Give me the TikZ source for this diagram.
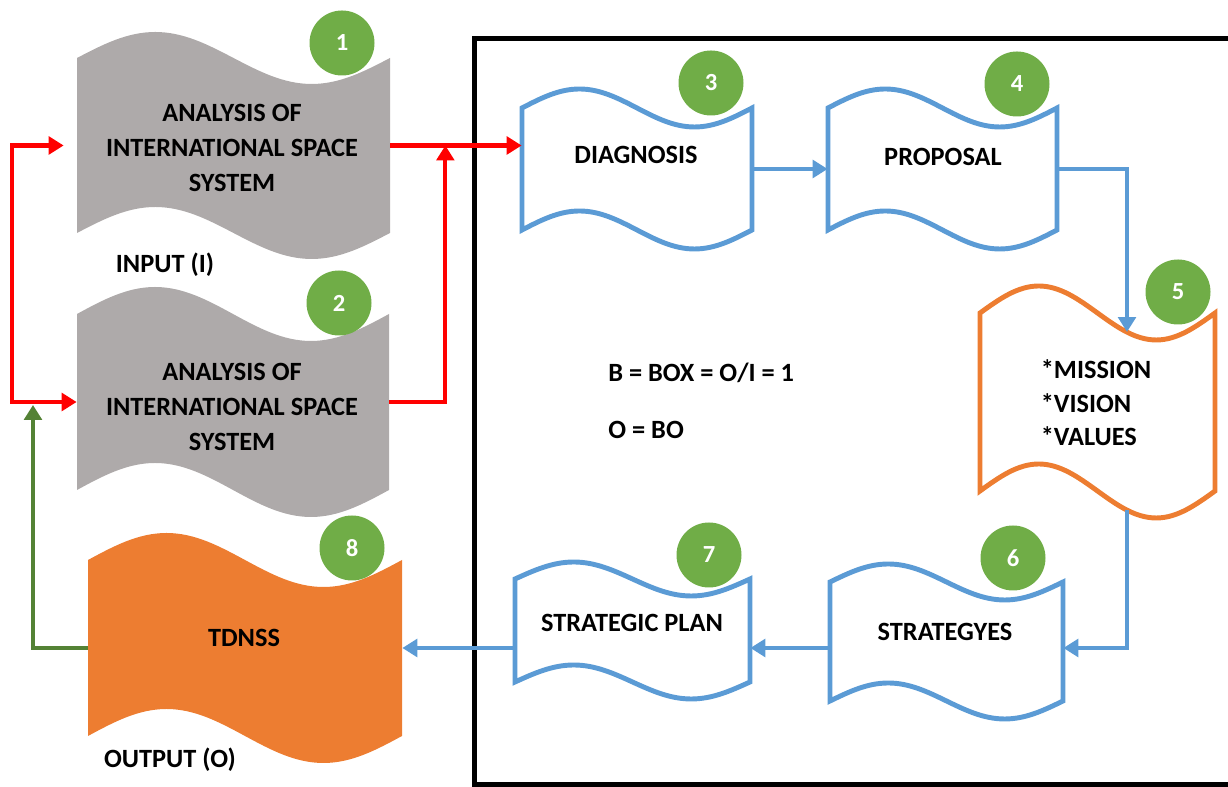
\documentclass[tikz,border=0pt]{standalone}
\usepackage{fontspec}
\setmainfont{Carlito}
\usetikzlibrary{arrows.meta, calc}

\definecolor{tapegray}{HTML}{AEAAAA}
\definecolor{tapeblue}{HTML}{5B9BD5}
\definecolor{tapeorange}{HTML}{ED7D31}
\definecolor{numgreen}{HTML}{70AD47}
\definecolor{loopgreen}{HTML}{548235}

% wavy tape: name, look, left, right, top, bottom, bend
\newcommand{\tapebox}[7]{%
  \pgfmathsetmacro\qone{#3+(#4-#3)/4}%
  \pgfmathsetmacro\qtwo{#3+(#4-#3)/2}%
  \pgfmathsetmacro\qthree{#3+3*(#4-#3)/4}%
  \path[#2] (#3,#5) sin (\qone,#5+#7) cos (\qtwo,#5) sin (\qthree,#5-#7) cos (#4,#5)
    -- (#4,#6) sin (\qthree,#6-#7) cos (\qtwo,#6) sin (\qone,#6+#7) cos (#3,#6) -- cycle;
  \node[inner sep=0pt, minimum width={(#4-#3)*1cm}, minimum height={(#5-#6)*1cm}] (#1) at (\qtwo,{(#5+#6)/2}) {};
}

\begin{document}
\begin{tikzpicture}[>={Triangle[length=8.5pt,width=10pt]},
  font=\bfseries\fontsize{15}{20}\selectfont,
  grayfill/.style={fill=tapegray},
  orangefill/.style={fill=tapeorange},
  blueedge/.style={draw=tapeblue, fill=white, line width=2.8pt},
  orangeedge/.style={draw=tapeorange, fill=white, line width=2.8pt},
  num/.style={circle, fill=numgreen, text=white, minimum size=1.3cm, inner sep=0pt,
    font=\bfseries\fontsize{14}{14}\selectfont},
  lbl/.style={align=center, inner sep=0pt},
  redline/.style={draw=red, line width=2.3pt},
  blueline/.style={draw=tapeblue, line width=2.5pt},
  greenline/.style={draw=loopgreen, line width=2.3pt}]
  \clip (0,0) rectangle (24.56,15.74);

  % the box
  \draw[line width=0.1cm] (24.8,14.96) -- (9.48,14.96) -- (9.48,0.04) -- (24.8,0.04);

  % tapes
  \tapebox{g1}{grayfill}{1.54}{7.80}{14.58}{11.08}{0.52}
  \tapebox{g2}{grayfill}{1.54}{7.78}{9.46}{5.94}{0.54}
  \tapebox{tdnss}{orangefill}{1.76}{8.04}{4.54}{1.02}{0.54}
  \tapebox{diag}{blueedge}{10.44}{15.04}{13.58}{11.14}{0.38}
  \tapebox{prop}{blueedge}{16.56}{21.14}{13.58}{11.14}{0.38}
  \tapebox{mvv}{orangeedge}{19.60}{24.30}{9.48}{5.92}{0.54}
  \tapebox{strat}{blueedge}{16.60}{21.26}{4.10}{1.72}{0.36}
  \tapebox{plan}{blueedge}{10.30}{15.00}{4.16}{2.10}{0.34}

  % input loop
  \coordinate (joinR) at ($(g1.east)+(1.1,0)$);
  \coordinate (loopL) at (0.24,10);
  \coordinate (fbk) at (0.66,7.64);
  \draw[redline,->] (g1.east) -- (g1.east -| diag.west);
  \draw[redline,->] (g2.east) -| (joinR);
  \draw[redline,<->] ([xshift=-0.26cm]g1.west) -| (loopL) |- (g2.west);
  \draw[greenline,->] (tdnss.west) -| (fbk);

  % process chain
  \coordinate (mvvIn) at (22.54,9.10);
  \coordinate (mvvOut) at (22.54,5.54);
  \draw[blueline,->] (diag.east) -- (prop.west);
  \draw[blueline,->] (prop.east) -| (mvvIn);
  \draw[blueline,->] (mvvOut) |- (strat.east |- tdnss.east);
  \draw[blueline,->] (strat.west |- tdnss.east) -- (plan.east |- tdnss.east);
  \draw[blueline,->] (plan.west |- tdnss.east) -- (tdnss.east);

  % step numbers
  \node[num] (n1) at (6.84,14.88) {1};
  \node[num] (n2) at (6.78,9.68) {2};
  \node[num] (n3) at (14.22,14.08) {3};
  \node[num] (n4) at (20.34,14.06) {4};
  \node[num] (n5) at (23.56,9.90) {5};
  \node[num] (n6) at (20.26,4.58) {6};
  \node[num] (n7) at (14.18,4.64) {7};
  \node[num] (n8) at (7.04,4.78) {8};

  % texts
  \node[lbl] (g1txt) at (4.64,12.78) {ANALYSIS OF\\INTERNATIONAL SPACE\\SYSTEM};
  \node[lbl] (g2txt) at (4.64,7.60) {ANALYSIS OF\\INTERNATIONAL SPACE\\SYSTEM};
  \node[lbl] (input) at (3.30,10.44) {INPUT (I)};
  \node[lbl] (output) at (3.40,0.54) {OUTPUT (O)};
  \node[lbl] (tdnsstxt) at (4.88,2.98) {TDNSS};
  \node[lbl] (diagtxt) at (12.72,12.64) {DIAGNOSIS};
  \node[lbl] (proptxt) at (18.86,12.60) {PROPOSAL};
  \node[lbl, align=left, font=\bfseries\fontsize{15}{19}\selectfont] (mvvtxt) at (21.92,7.68) {*MISSION\\*VISION\\*VALUES};
  \node[lbl] (strattxt) at (18.90,3.10) {STRATEGYES};
  \node[lbl] (plantxt) at (12.64,3.28) {STRATEGIC PLAN};
  \node[anchor=west, inner sep=0pt] (ratio) at (12.16,8.28) {B = BOX = O/I = 1};
  \node[anchor=west, inner sep=0pt] (outeq) at (12.16,7.14) {O = BO};
\end{tikzpicture}
\end{document}
